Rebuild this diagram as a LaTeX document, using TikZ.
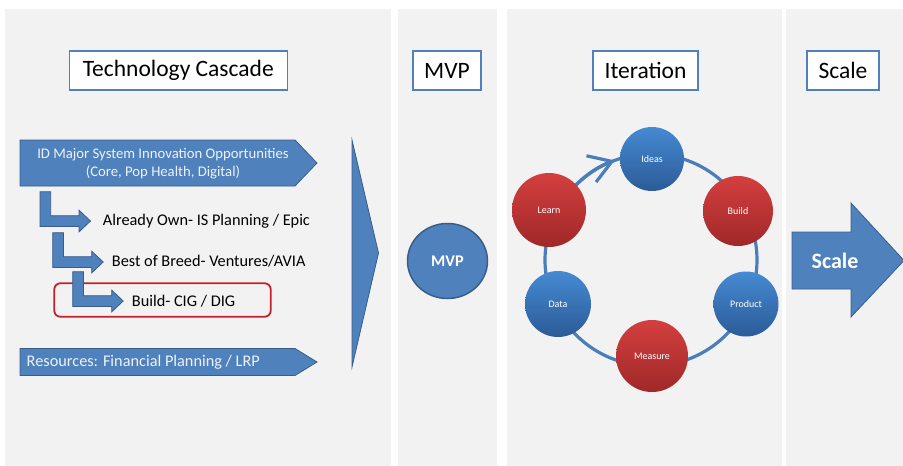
\documentclass[tikz,border=0pt]{standalone}
\usepackage{fontspec}
\setmainfont{Carlito}
\usetikzlibrary{arrows.meta,shapes.geometric}
\definecolor{panel}{HTML}{F2F2F2}
\definecolor{accent}{HTML}{4F81BD}
\definecolor{accentdark}{HTML}{385D8A}
\definecolor{ringblue}{HTML}{4A7EBB}
\definecolor{bluetop}{HTML}{458AD2}
\definecolor{bluebot}{HTML}{2C5B98}
\definecolor{redtop}{HTML}{D43F3F}
\definecolor{redbot}{HTML}{A02828}
\definecolor{framered}{HTML}{C3202B}
\definecolor{paletext}{HTML}{EEF2F8}

\begin{document}
\begin{tikzpicture}[x=1pt,y=-1pt,
  panelbox/.style={fill=panel,draw=none},
  titlebox/.style={draw=accent,fill=white,line width=1.4pt,
    font=\fontsize{23.5}{27}\selectfont,inner sep=0pt,minimum height=39pt},
  shapefill/.style={fill=accent,draw=accentdark,line width=0.8pt,line join=miter},
  arrowtext/.style={text=paletext,font=\fontsize{14.7}{18}\selectfont,inner sep=0pt},
  steptext/.style={text=black,font=\fontsize{16.3}{19}\selectfont,inner sep=0pt,anchor=west},
  ringline/.style={draw=ringblue,line width=3.2pt},
  bluecirc/.style={circle,inner sep=0pt,top color=bluetop,bottom color=bluebot,
    text=white,font=\fontsize{10}{12}\selectfont},
  redcirc/.style={circle,inner sep=0pt,top color=redtop,bottom color=redbot,
    text=white,font=\fontsize{10}{12}\selectfont},
  bentarrow/.pic={
    \draw[shapefill] (0,0) -- (10.7,0) -- (10.7,24) -- (39,24) -- (39,18.5)
      -- (50.5,29.3) -- (39,40.2) -- (39,34.7) -- (0,34.7) -- cycle;
  }
]
\useasboundingbox (0,0) rectangle (903,466);
\clip (0,0) rectangle (903,466);

% four column panels
\fill[panelbox] (5,9) rectangle (391,466);
\fill[panelbox] (397.5,9) rectangle (497,466);
\fill[panelbox] (507,9) rectangle (782,466);
\fill[panelbox] (786,9) rectangle (903,466);

% column headings
\node[titlebox,minimum width=218pt] (tcascade) at (178.3,70.6) {Technology Cascade};
\node[titlebox,minimum width=68pt] (tmvp) at (447,70.6) {MVP};
\node[titlebox,minimum width=105pt] (titer) at (645.5,70.6) {Iteration};
\node[titlebox,minimum width=72pt] (tscale) at (843,70.6) {Scale};

% technology cascade
\draw[shapefill] (20,140) -- (295,140) -- (317,163) -- (295,186) -- (20,186) -- cycle;
\node[arrowtext,align=center] (opps) at (163,164)
  {ID Major System Innovation Opportunities\\(Core, Pop Health, Digital)};

\draw[framered,line width=1.8pt,rounded corners=6pt] (54.3,283.3) rectangle (270.7,316.7);

\pic at (40,191.7) {bentarrow};
\pic at (52.7,232.7) {bentarrow};
\pic at (72.7,271.7) {bentarrow};
\node[steptext] (own) at (102.7,221) {Already Own- IS Planning / Epic};
\node[steptext] (breed) at (111.7,261.5) {Best of Breed- Ventures/AVIA};
\node[steptext] (build) at (131.7,300.7) {Build- CIG / DIG};

\draw[shapefill] (20,348.5) -- (295,348.5) -- (317,362) -- (295,375.5) -- (20,375.5) -- cycle;
\node[arrowtext,anchor=west,font=\fontsize{16.3}{19}\selectfont] (res) at (26.5,362)
  {Resources: Financial Planning / LRP};

\draw[shapefill] (352,140) -- (378.5,253) -- (352,367) -- cycle;

% MVP
\node[ellipse,draw=accentdark,fill=accent,line width=1.5pt,minimum width=80pt,
  minimum height=75pt,inner sep=0pt,text=white,
  font=\bfseries\fontsize{16.3}{19}\selectfont] (mvp) at (447.5,261) {MVP};

% iteration cycle
\coordinate (ringc) at (651,260);
\draw[ringline] (ringc) circle[radius=106];
\draw[ringline,-{Straight Barb[length=22pt,width=28pt,line width=3.2pt]}]
  ([shift={(-152:106)}]ringc) arc[start angle=-152,end angle=-110,radius=106];

\node[bluecirc,minimum size=64pt] (ideas) at (652,159) {Ideas};
\node[redcirc,minimum size=70pt] (buildc) at (738,211) {Build};
\node[bluecirc,minimum size=65pt] (product) at (746,304) {Product};
\node[redcirc,minimum size=72pt] (measure) at (652,356) {Measure};
\node[bluecirc,minimum size=66pt] (data) at (558,304) {Data};
\node[redcirc,minimum size=74pt] (learn) at (549,210) {Learn};

% scale
\draw[shapefill] (792,232) -- (851,232) -- (851,203) -- (904,260.5) -- (851,317)
  -- (851,289) -- (792,289) -- cycle;
\node[text=white,font=\bfseries\fontsize{22}{26}\selectfont,inner sep=0pt]
  (scale) at (835,261) {Scale};
\end{tikzpicture}
\end{document}
